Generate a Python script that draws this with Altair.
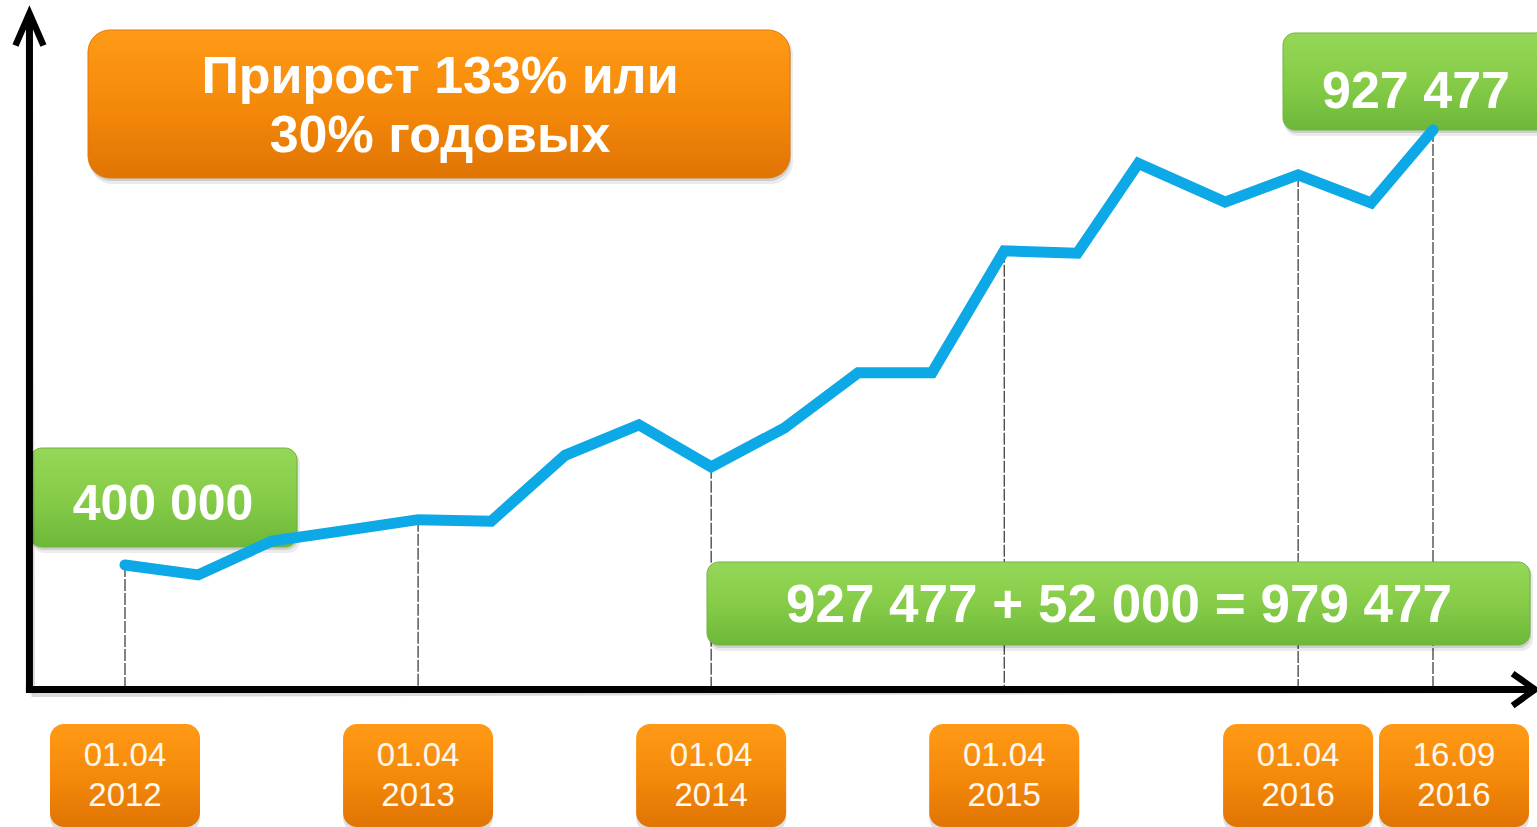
import altair as alt
import pandas as pd
import numpy as np

# ---------------- data ----------------
dates = ["2012-04-01", "2012-07-01", "2012-10-01", "2013-01-01", "2013-04-01", "2013-07-01",
         "2013-10-01", "2014-01-01", "2014-04-01", "2014-07-01", "2014-10-01", "2015-01-01",
         "2015-04-01", "2015-07-01", "2015-09-15", "2016-01-01", "2016-04-01", "2016-07-01",
         "2016-09-16"]
values = [400000, 388000, 429000, 442000, 455000, 453000, 533000, 570000, 519000, 566000,
          633000, 633000, 781000, 778000, 887000, 840000, 873000, 839000, 927477]

tick_dates = ["2012-04-01", "2013-04-01", "2014-04-01", "2015-04-01", "2016-04-01", "2016-09-16"]
tick_line1 = ["01.04", "01.04", "01.04", "01.04", "01.04", "16.09"]
tick_line2 = ["2012", "2013", "2014", "2015", "2016", "2016"]

start_label = "400 000"
end_label = "927 477"
total_label = "927 477 + 52 000 = 979 477"
title_lines = ["Прирост 133% или", "30% годовых"]

# ---------------- layout / style ----------------
W, H = 1537, 827
ORIGIN = pd.Timestamp("2012-04-01")
PX_PER_DAY = 0.80295
X0_PX = 125
VAL_PER_PX = 1212.59
X_DOMAIN = [-X0_PX / PX_PER_DAY, (W - X0_PX) / PX_PER_DAY]
Y_DOMAIN = [400000 - 262 * VAL_PER_PX, 400000 + 565 * VAL_PER_PX]
X_SCALE = alt.Scale(domain=X_DOMAIN, nice=False, zero=False)
Y_SCALE = alt.Scale(domain=Y_DOMAIN, nice=False, zero=False)

AX_DAY = -119          # position of vertical axis
X_END_DAY = 1756       # tip of horizontal arrow
Y_BASE = 249000        # position of horizontal axis
Y_TOP = 1069000        # tip of vertical arrow

FONT = "Liberation Sans"
LINE_COLOR = "#0DA9E6"


def grad(top, mid, bottom):
    return alt.Gradient(gradient="linear",
                        stops=[alt.GradientStop(color=top, offset=0),
                               alt.GradientStop(color=mid, offset=0.5),
                               alt.GradientStop(color=bottom, offset=1)],
                        x1=0, x2=0, y1=0, y2=1)


ORANGE = grad("#FF9A16", "#F58A0A", "#E07404")
GREEN = grad("#95D758", "#86CC48", "#6DB83A")

# ---------------- tables ----------------
days = (pd.to_datetime(dates) - ORIGIN).days.astype(float)
line_df = pd.DataFrame({"day": days, "value": values})

tdays = (pd.to_datetime(tick_dates) - ORIGIN).days.astype(float)
rules_df = pd.DataFrame({"day": tdays,
                         "top": np.interp(tdays, days, values),
                         "base": Y_BASE})

shift_px = np.array([0, 0, 0, 0, 0, 21], dtype=float)
half_w = 75 / PX_PER_DAY
center = tdays + shift_px / PX_PER_DAY
ticks_df = pd.DataFrame({"center": center, "left": center - half_w, "right": center + half_w,
                         "l1": tick_line1, "l2": tick_line2})

axes_df = pd.DataFrame({"x": [AX_DAY, AX_DAY], "x2": [AX_DAY, X_END_DAY - 3],
                        "y": [Y_BASE, Y_BASE], "y2": [Y_TOP - 5000, Y_BASE]})
arrow_up_df = pd.DataFrame({"day": [AX_DAY], "value": [Y_TOP]})
arrow_right_df = pd.DataFrame({"day": [X_END_DAY], "value": [Y_BASE]})


def X(field):
    return alt.X(field, type="quantitative", scale=X_SCALE, axis=None)


def Y(field):
    return alt.Y(field, type="quantitative", scale=Y_SCALE, axis=None)


def pbox(text, x1, x2, y1, y2, fill, radius, stroke):
    df = pd.DataFrame({"t": [text]})
    base = alt.Chart(df)
    sh1 = base.mark_rect(cornerRadius=radius, fill="#000000", opacity=0.08).encode(
        x=alt.value(x1 + 2), x2=alt.value(x2 + 3), y=alt.value(y1 + 3), y2=alt.value(y2 + 6))
    sh2 = base.mark_rect(cornerRadius=radius, fill="#000000", opacity=0.12).encode(
        x=alt.value(x1 + 1), x2=alt.value(x2 + 1), y=alt.value(y1 + 2), y2=alt.value(y2 + 3))
    box = base.mark_rect(cornerRadius=radius, fill=fill, stroke=stroke, strokeWidth=1).encode(
        x=alt.value(x1), x2=alt.value(x2), y=alt.value(y1), y2=alt.value(y2))
    return [sh1, sh2, box]


def ptext(text, x, y, size):
    return alt.Chart(pd.DataFrame({"t": [text]})).mark_text(
        font=FONT, fontSize=size, fontWeight="bold", color="white",
        align="center", baseline="alphabetic").encode(
        x=alt.value(x), y=alt.value(y), text="t:N")


# ---------------- layers ----------------
rules = alt.Chart(rules_df).mark_rule(color="#1E1E1E", strokeWidth=1.1, strokeDash=[12, 2]).encode(
    x=X("day"), y=Y("top"), y2="base")

date_shadow = alt.Chart(ticks_df).mark_rect(cornerRadius=14, fill="#000000", opacity=0.12).encode(
    x=X("left"), x2="right", y=alt.value(727), y2=alt.value(832))
date_boxes = alt.Chart(ticks_df).mark_rect(cornerRadius=14, fill=ORANGE).encode(
    x=X("left"), x2="right", y=alt.value(724), y2=alt.value(827))
date_t1 = alt.Chart(ticks_df).mark_text(font=FONT, fontSize=33, color="#FFF8EE",
                                        baseline="alphabetic").encode(
    x=X("center"), y=alt.value(766), text="l1:N")
date_t2 = alt.Chart(ticks_df).mark_text(font=FONT, fontSize=33, color="#FFF8EE",
                                        baseline="alphabetic").encode(
    x=X("center"), y=alt.value(806), text="l2:N")

axis_shadow = alt.Chart(axes_df).mark_rule(color="#000000", opacity=0.15, strokeWidth=7).encode(
    x=X("x"), x2="x2", y=Y("y"), y2="y2", xOffset=alt.value(2), yOffset=alt.value(4))
axes = alt.Chart(axes_df).mark_rule(color="#000000", strokeWidth=7, strokeCap="square").encode(
    x=X("x"), x2="x2", y=Y("y"), y2="y2")
arrow_up = alt.Chart(arrow_up_df).mark_point(
    shape="M-1,2.3L0,0L1,2.3", size=784, filled=False, color="#000000", strokeWidth=6.5,
    opacity=1, strokeJoin="miter").encode(x=X("day"), y=Y("value"))
arrow_right = alt.Chart(arrow_right_df).mark_point(
    shape="M-1.4,-1L0,0L-1.4,1", size=1024, filled=False, color="#000000", strokeWidth=6.5,
    opacity=1, strokeJoin="miter").encode(x=X("day"), y=Y("value"))

line = alt.Chart(line_df).mark_line(color=LINE_COLOR, strokeWidth=11, strokeCap="round",
                                    strokeJoin="miter").encode(x=X("day"), y=Y("value"))

layers = [rules, date_shadow, date_boxes, date_t1, date_t2]
layers += pbox(title_lines[0], 88, 790, 30, 178, ORANGE, 22, "#E07A0A")
layers += [ptext(title_lines[0], 440, 93, 52), ptext(title_lines[1], 440, 152, 52)]
layers += pbox(start_label, 30, 297, 448, 547, GREEN, 12, "#73B43F")
layers += [ptext(start_label, 163, 520, 50)]
layers += pbox(end_label, 1283, 1570, 33, 130, GREEN, 12, "#73B43F")
layers += [ptext(end_label, 1416, 108, 52)]
layers += pbox(total_label, 707, 1530, 562, 645, GREEN, 12, "#73B43F")
layers += [ptext(total_label, 1119, 622, 53)]
layers += [line, axis_shadow, axes, arrow_up, arrow_right]

chart = alt.layer(*layers).properties(
    width=W, height=H, padding=0, autosize=alt.AutoSizeParams(type="none"),
    background="white"
).configure_view(stroke=None)

chart.save("out.html", embed_options={"renderer": "svg", "actions": False})
